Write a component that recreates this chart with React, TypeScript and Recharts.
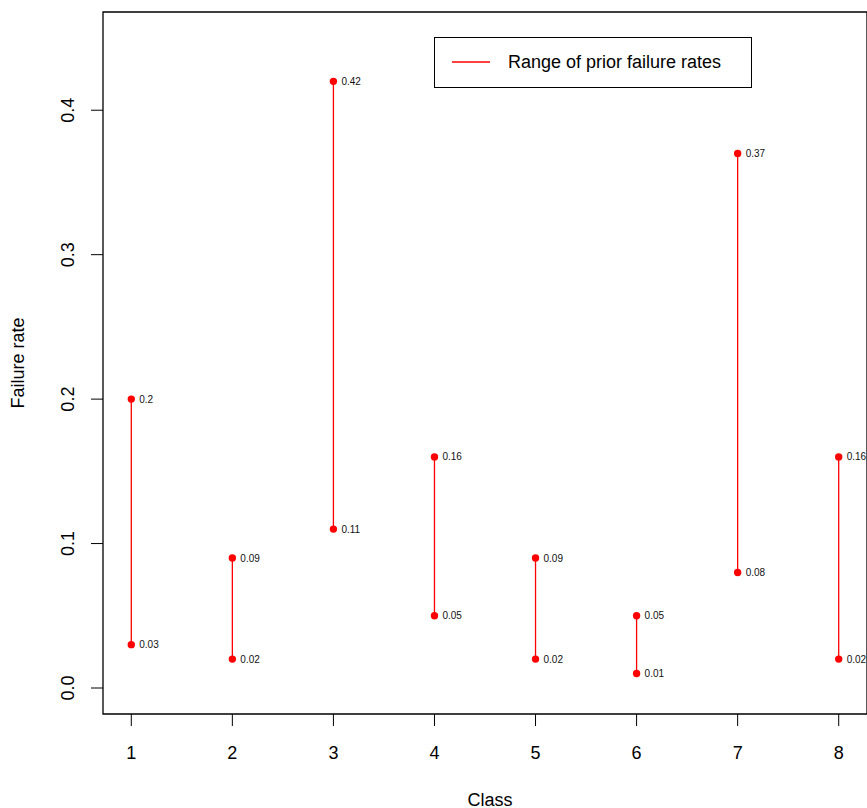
import React from "react";
import {
  ScatterChart,
  Scatter,
  XAxis,
  YAxis,
  ReferenceArea,
  Customized,
} from "recharts";

// Prior failure rate ranges per class
const classes = [1, 2, 3, 4, 5, 6, 7, 8];
const lowRates = [0.03, 0.02, 0.11, 0.05, 0.02, 0.01, 0.08, 0.02];
const highRates = [0.2, 0.09, 0.42, 0.16, 0.09, 0.05, 0.37, 0.16];
const yTicks = [0, 0.1, 0.2, 0.3, 0.4];
const legendLabel = "Range of prior failure rates";

const RED = "#ff0000";
const FONT = "'Liberation Sans', Arial, Helvetica, sans-serif";

// chart layout
const W = 867;
const H = 808;
const M = { top: 12, left: 103, bottom: 94, right: 0 };

// xlim c(1, 8) and ylim c(0, 0.45) with R's 4% padding
const xDomain = [0.72, 8.28];
const yDomain = [-0.018, 0.468];

const PointWithLabel = (props: any) => {
  const { cx, cy, payload } = props;
  if (cx == null || cy == null) return null;
  return (
    <g>
      <circle cx={cx} cy={cy} r={3.7} fill={RED} />
      <text
        x={cx + 8}
        y={cy}
        dy="0.35em"
        fontSize={10}
        fontFamily={FONT}
        fill="#111"
      >
        {String(payload.y)}
      </text>
    </g>
  );
};

const XTick = (props: any) => {
  const { x, payload } = props;
  // baseline ~45px under the plot box
  return (
    <text
      x={x}
      y={H - M.bottom + 45}
      textAnchor="middle"
      fontSize={18}
      fontFamily={FONT}
      fill="#000"
    >
      {payload.value}
    </text>
  );
};

const YTick = (props: any) => {
  const { x, y, payload } = props;
  return (
    <text
      x={x}
      y={y}
      transform={`rotate(-90 ${x} ${y})`}
      textAnchor="middle"
      fontSize={18}
      fontFamily={FONT}
      fill="#000"
    >
      {payload.value.toFixed(1)}
    </text>
  );
};

const Decorations = () => {
  const midY = M.top + (H - M.top - M.bottom) / 2;
  const lx = 434;
  const ly = 37;
  return (
    <g fontFamily={FONT} fontSize={18} fill="#000">
      <text x={490} y={806} textAnchor="middle">
        Class
      </text>
      <text
        x={24}
        y={midY}
        transform={`rotate(-90 24 ${midY})`}
        textAnchor="middle"
      >
        Failure rate
      </text>
      <g transform={`translate(${lx}, ${ly})`}>
        <rect x={0.5} y={0.5} width={317} height={50} fill="#fff" stroke="#000" />
        <line x1={18} y1={25} x2={56} y2={25} stroke={RED} strokeWidth={1.3} />
        <text x={74} y={25} dy="0.35em">
          {legendLabel}
        </text>
      </g>
    </g>
  );
};

export default function App() {
  return (
    <div style={{ position: "absolute", left: 0, top: 0, background: "#fff" }}>
      <ScatterChart
        width={W}
        height={H}
        margin={{ top: M.top, right: M.right, bottom: 0, left: 0 }}
      >
        <XAxis
          type="number"
          dataKey="x"
          domain={xDomain}
          ticks={classes}
          allowDataOverflow
          height={M.bottom}
          axisLine={false}
          tickSize={12}
          tickLine={{ stroke: "#000" }}
          tick={<XTick />}
        />
        <YAxis
          type="number"
          dataKey="y"
          domain={yDomain}
          ticks={yTicks}
          allowDataOverflow
          width={M.left}
          axisLine={false}
          tickSize={12}
          tickMargin={17}
          tickLine={{ stroke: "#000" }}
          tick={<YTick />}
        />
        <ReferenceArea
          x1={xDomain[0]}
          x2={xDomain[1]}
          y1={yDomain[0]}
          y2={yDomain[1]}
          fill="none"
          stroke="#000"
          strokeWidth={1.3}
          fillOpacity={0}
        />
        {classes.map((c, i) => (
          <Scatter
            key={c}
            name={legendLabel}
            data={[
              { x: c, y: lowRates[i] },
              { x: c, y: highRates[i] },
            ]}
            fill={RED}
            line={{ stroke: RED, strokeWidth: 1.3 }}
            shape={<PointWithLabel />}
            isAnimationActive={false}
          />
        ))}
        <Customized component={Decorations} />
      </ScatterChart>
    </div>
  );
}
